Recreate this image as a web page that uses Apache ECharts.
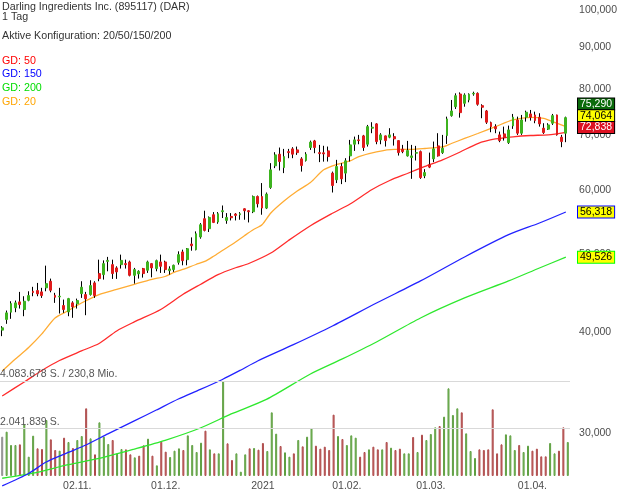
<!DOCTYPE html>
<html><head><meta charset="utf-8">
<script src="https://cdn.jsdelivr.net/npm/echarts@6/dist/echarts.min.js"></script>
<style>html,body{margin:0;padding:0;background:#fff}#c{width:620px;height:496px}</style>
</head><body><div id="c"></div>
<script>
// ---- trading days (NYSE calendar) ----
const tradingDays = {
  '2020-10': [8,9,12,13,14,15,16,19,20,21,22,23,26,27,28,29,30],
  '2020-11': [2,3,4,5,6,9,10,11,12,13,16,17,18,19,20,23,24,25,27,30],
  '2020-12': [1,2,3,4,7,8,9,10,11,14,15,16,17,18,21,22,23,24,28,29,30,31],
  '2021-01': [4,5,6,7,8,11,12,13,14,15,19,20,21,22,25,26,27,28,29],
  '2021-02': [1,2,3,4,5,8,9,10,11,12,16,17,18,19,22,23,24,25,26],
  '2021-03': [1,2,3,4,5,8,9,10,11,12,15,16,17,18,19,22,23,24,25,26,29,30,31],
  '2021-04': [1,5,6,7,8,9,12,13,14]
};
const categories = [];
Object.keys(tradingDays).forEach(ym => tradingDays[ym].forEach(d => categories.push(ym + '-' + String(d).padStart(2, '0'))));

// ---- prices ----
const open = [40.23,41.47,42.34,42.87,43.60,42.66,43.80,44.94,45.03,44.86,45.38,46.24,44.43,44.23,43.15,42.38,43.48,43.36,44.64,44.52,44.52,46.02,47.26,47.12,48.93,48.48,48.03,48.48,48.62,48.85,47.03,47.22,47.94,47.71,48.62,47.94,48.85,48.85,47.66,47.80,48.80,50.26,49.17,51.41,50.59,52.45,55.25,53.70,55.88,54.73,56.36,54.98,55.61,55.99,55.88,56.84,56.52,56.36,58.86,58.86,56.95,60.39,64.23,66.39,63.91,66.88,67.40,67.21,65.51,65.21,67.66,68.95,66.69,66.65,67.02,62.91,61.72,64.10,62.91,66.07,68.30,69.15,69.94,68.30,71.49,72.37,69.15,69.94,69.68,69.80,69.01,67.34,66.07,65.76,66.58,66.88,62.43,64.41,65.51,67.98,66.69,70.00,74.09,76.00,78.80,76.74,77.47,78.80,78.95,76.23,75.09,72.64,71.81,70.14,70.34,68.62,71.96,73.19,70.48,73.76,74.45,74.24,73.76,71.49,71.29,72.51,74.24,69.68,70.48];
const close = [40.50,42.26,43.39,43.48,43.27,43.68,44.39,44.77,44.61,44.39,45.93,45.07,44.18,44.31,42.66,44.01,42.99,43.77,45.46,43.98,45.67,44.39,46.59,48.62,49.07,47.26,47.49,49.07,48.48,47.03,47.80,47.57,47.26,48.85,48.03,49.03,48.25,47.80,47.89,48.39,49.88,49.03,50.73,51.16,52.94,54.31,53.44,55.45,54.67,56.04,56.52,55.45,55.40,55.77,56.04,56.52,56.36,58.86,57.65,56.95,59.26,63.50,66.26,65.02,65.94,66.69,66.39,66.69,64.28,66.39,68.70,67.66,66.50,66.45,65.94,60.73,64.10,61.89,65.15,68.17,69.15,69.01,67.66,71.81,71.69,68.82,70.14,69.01,70.14,69.35,66.69,66.88,67.08,66.07,66.69,62.12,63.01,63.99,67.40,66.07,67.53,73.40,75.09,78.42,74.73,78.58,78.75,78.95,76.53,75.88,72.72,71.81,71.35,69.01,69.60,71.14,73.76,70.48,73.19,74.81,73.76,73.05,72.37,70.60,72.16,74.09,70.14,68.82,73.67];
const low = [39.55,40.96,41.55,42.34,42.78,41.86,43.68,44.31,44.31,44.10,44.94,44.81,43.48,42.18,42.26,41.86,41.67,42.78,44.10,41.98,44.39,44.10,46.24,46.46,47.57,46.55,46.55,47.94,47.94,46.89,45.93,46.59,46.72,47.35,46.76,47.57,47.35,47.35,47.12,47.49,48.48,48.39,48.39,50.44,50.49,52.20,53.29,53.20,54.57,54.46,55.36,54.46,54.98,54.98,55.09,55.09,54.67,56.14,57.05,55.88,56.79,60.16,63.81,63.37,62.91,65.64,65.64,66.26,63.18,65.02,67.21,66.58,64.91,65.00,65.02,59.53,61.15,60.97,61.32,65.02,67.02,68.30,67.02,67.85,70.48,68.30,68.30,67.85,69.48,68.04,66.13,66.58,65.94,61.89,65.21,61.89,62.01,63.81,64.91,65.94,66.45,68.36,73.88,75.52,73.67,76.00,76.96,78.42,76.23,73.55,72.37,70.68,70.48,68.70,69.01,68.36,71.35,70.14,70.14,72.84,73.05,72.51,71.81,70.34,71.14,72.16,70.00,67.73,68.70];
const high = [40.69,42.54,43.68,43.77,44.86,44.31,44.94,45.51,46.02,45.38,48.34,46.59,44.74,45.38,43.89,44.10,43.68,44.01,46.24,44.86,46.37,46.24,49.17,49.07,49.56,49.17,48.25,49.88,49.17,49.03,48.03,47.71,48.03,49.03,48.71,49.17,49.88,49.03,48.25,48.48,50.35,50.59,50.83,52.39,53.29,54.57,56.52,55.61,56.30,56.30,57.37,56.14,56.14,56.14,56.30,56.90,56.60,59.02,59.02,61.15,59.53,64.72,66.77,67.66,67.40,67.40,67.73,67.85,65.83,66.77,69.01,69.15,68.17,68.00,67.85,63.18,65.33,64.72,65.64,69.15,69.80,70.14,70.14,72.16,72.72,72.51,70.48,70.00,71.49,70.48,69.10,68.17,68.95,68.17,67.98,67.08,63.62,66.69,68.82,70.48,70.14,73.88,77.47,78.95,79.16,78.95,78.95,79.32,79.16,76.53,75.30,72.84,72.30,70.80,71.81,72.02,74.45,73.88,74.24,75.15,75.30,74.94,74.60,72.51,72.51,74.45,74.30,70.14,73.88];

// ---- volume (thousand shares) ----
const volumeK = [1691,1906,1333,1333,1361,2221,831,1734,1189,1161,2407,1576,1118,1089,1648,1462,1204,1548,1719,2909,1619,931,2307,1691,1376,1548,974,1161,1146,931,802,874,1318,1605,874,459,1476,1046,817,1089,1189,1118,1748,1333,1032,1433,1949,1146,974,974,4083.678,1404,688,974,186,931,1189,1204,1132,1419,1075,2737,1820,1290,1017,831,974,1548,1275,1691,2049,1304,1175,1261,1118,2637,1719,1591,1333,1748,1648,831,1032,1146,1261,1146,1146,1462,1218,1118,1175,974,974,1676,1032,1777,1548,1805,2092,2149,2551,3769,2622,2909,2737,1834,1075,774,1146,1118,1146,2866,974,1361,1791,1748,1118,1333,1032,1304,1089,1175,845,845,1419,974,1089,2092,1462];
const turnoverText = '230,8 Mio.';

// ---- moving averages [category index, value] ----
const gd20 = [[0,35.81],[3,37.06],[6,38.29],[9,39.80],[12,41.65],[15,42.52],[18,43.46],[22,44.52],[26,45.17],[30,45.84],[34,46.50],[37,46.87],[39,47.42],[41,47.82],[44,48.50],[46,48.92],[48,49.65],[50,50.47],[53,51.71],[55,52.64],[57,53.55],[59,54.31],[61,56.16],[64,58.11],[67,59.79],[70,61.25],[73,63.50],[76,64.48],[79,65.12],[81,65.95],[85,66.85],[89,67.32],[93,67.32],[96,67.48],[100,67.77],[102,68.44],[105,69.43],[108,70.42],[112,71.80],[116,73.19],[120,73.74],[123,73.53],[125,72.83],[128,71.80]];
const gd50 = [[0,33.36],[5,34.71],[9,35.87],[13,36.90],[18,37.92],[22,38.73],[26,40.14],[30,41.18],[36,42.67],[41,44.52],[45,45.82],[49,47.12],[53,48.05],[56,48.64],[61,50.11],[65,51.93],[70,54.16],[75,56.11],[79,57.62],[84,60.04],[88,61.60],[92,62.84],[96,64.11],[100,65.33],[104,66.81],[108,68.44],[112,69.33],[116,69.76],[120,70.02],[124,70.16],[128,70.66]];
const gd150 = [[0,25.82],[6,26.75],[10,27.64],[15,28.40],[19,29.01],[24,29.94],[30,31.07],[35,32.05],[40,33.07],[45,33.98],[50,34.96],[54,35.87],[58,36.85],[66,38.57],[75,40.71],[85,43.46],[95,46.28],[105,49.55],[115,52.79],[122,54.58],[128,56.318]];
const gd200 = [[0,26.39],[7,26.77],[15,27.43],[22,27.93],[30,28.68],[37,29.40],[45,30.45],[52,31.69],[60,33.03],[70,35.51],[77,37.01],[85,38.90],[95,41.65],[105,44.09],[115,46.28],[122,48.02],[128,49.526]];

// ---- quote boxes on the right ----
const quoteNames = ['close','gd20','gd50','gd150','gd200'];
const quoteValues = [75.290, 74.064, 72.838, 56.318, 49.526];
const priceTicks = [30,40,50,60,70,80,90,100];

const titleLines = ['Darling Ingredients Inc. (895117) (DAR)', '1 Tag', 'Aktive Konfiguration: 20/50/150/200'];
const legendNames = ['GD: 50','GD: 150','GD: 200','GD: 20'];

// ---- styles ----
const FONT = '"Liberation Sans", Arial, sans-serif';
const GREEN = '#3db31f', RED = '#e01b1b';
const fmtPrice = v => Number(v).toFixed(3).replace('.', ',');
const fmtThousands = n => String(Math.round(n)).replace(/\B(?=(\d{3})+(?!\d))/g, '.');

const volumes = volumeK.map(v => Math.round(v * 1000));
const volMax = Math.max.apply(null, volumes);

const volData = volumes.map((v, i) => {
  let c, b;
  if (i === 0) { c = '#bdbdbd'; b = '#8e8e8e'; }
  else if (close[i] >= close[i - 1]) { c = '#8fcb70'; b = '#5f9f42'; }
  else { c = '#d97a7a'; b = '#ad4a4a'; }
  return { value: v, itemStyle: { color: c, borderColor: b } };
});
const wickData = open.map((o, i) => [o, close[i], low[i], high[i]]);
const bodyData = open.map((o, i) => [o, close[i], Math.min(o, close[i]), Math.max(o, close[i])]);

const chart = echarts.init(document.getElementById('c'), null, { renderer: 'canvas' });
const maLine = (name, data, color) => ({
  name, type: 'line', xAxisIndex: 0, yAxisIndex: 0, data, showSymbol: false, symbol: 'none',
  smooth: 0.25, lineStyle: { color, width: 1.3 }, z: 3, silent: true
});

chart.setOption({
  animation: false,
  textStyle: { fontFamily: FONT },
  grid: [
    { left: 0, right: 50, top: 0, bottom: 0 },
    { left: 0, right: 50, top: 381, bottom: 20 }
  ],
  xAxis: [
    { type: 'category', gridIndex: 0, data: categories, boundaryGap: true, show: false },
    { type: 'category', gridIndex: 1, data: categories, boundaryGap: true,
      axisLine: { show: false }, axisTick: { show: false },
      axisLabel: {
        interval: (i) => i > 0 && categories[i].slice(0, 7) !== categories[i - 1].slice(0, 7),
        formatter: (v) => { const p = v.split('-'); return p[1] === '01' ? p[0] : p[2] + '.' + p[1] + '.'; },
        color: '#4d4d4d', fontSize: 10.5, margin: 5, fontFamily: FONT
      } }
  ],
  yAxis: [
    { type: 'log', gridIndex: 0, min: 25.09, max: 102.98, position: 'right',
      axisLine: { show: false }, axisTick: { show: false }, splitLine: { show: false },
      axisLabel: { customValues: priceTicks, formatter: fmtPrice, color: '#4d4d4d', fontSize: 10.5, margin: 11, align: 'left', fontFamily: FONT } },
    { type: 'value', gridIndex: 1, min: 0, max: volMax, show: false, splitLine: { show: false } }
  ],
  series: [
    { name: 'Volumen', type: 'bar', xAxisIndex: 1, yAxisIndex: 1, data: volData, barWidth: 2, z: 1,
      itemStyle: { borderWidth: 1 }, silent: true,
      markLine: { symbol: ['none', 'none'], silent: true, label: { show: false },
        lineStyle: { color: '#d9d9d9', type: 'solid', width: 1 },
        data: [{ yAxis: volMax }, { yAxis: volMax / 2 }] } },
    maLine('GD 200', gd200, '#2ee82e'),
    maLine('GD 150', gd150, '#2222ff'),
    maLine('GD 50', gd50, '#ff2b2b'),
    maLine('GD 20', gd20, '#ffac33'),
    { name: 'wick', type: 'candlestick', xAxisIndex: 0, yAxisIndex: 0, data: wickData, barWidth: 0.2, z: 5, silent: true,
      itemStyle: { color: '#000', color0: '#000', borderColor: '#000', borderColor0: '#000', borderWidth: 1 } },
    { name: 'body', type: 'candlestick', xAxisIndex: 0, yAxisIndex: 0, data: bodyData, barWidth: 2.4, z: 6, silent: true,
      itemStyle: { color: GREEN, color0: RED, borderColor: GREEN, borderColor0: RED, borderWidth: 1 } }
  ]
});

// ---- texts & quote boxes ----
const graphics = [];
const titleY = [6.7, 16.7, 36];
titleLines.forEach((t, k) => graphics.push({ type: 'text', x: 2, y: titleY[k], z: 50,
  style: { text: t, fill: '#333', font: '10.7px ' + FONT, verticalAlign: 'middle', align: 'left' } }));
const legendColors = ['#ff0000', '#0000ff', '#00dd00', '#ffa500'];
const legendY = [60.7, 74, 88.3, 101.7];
legendNames.forEach((t, k) => graphics.push({ type: 'text', x: 2, y: legendY[k], z: 50,
  style: { text: t, fill: legendColors[k], font: '10.7px ' + FONT, verticalAlign: 'middle', align: 'left' } }));

const volTexts = [fmtThousands(volMax) + ' S. / ' + turnoverText, fmtThousands(volMax / 2) + ' S.'];
[volMax, volMax / 2].forEach((v, k) => {
  const y = chart.convertToPixel({ yAxisIndex: 1 }, v);
  graphics.push({ type: 'text', x: 0, y: y - 1, z: 50,
    style: { text: volTexts[k], fill: '#555', font: '10.5px ' + FONT, verticalAlign: 'bottom', align: 'left' } });
});

const boxStyle = {
  close: { bg: '#0b6b0b', fg: '#fff', bd: '#000' },
  gd20: { bg: '#ffff00', fg: '#000', bd: '#000' },
  gd50: { bg: '#dd1122', fg: '#fff', bd: '#000' },
  gd150: { bg: '#ffff00', fg: '#000', bd: '#0000ff' },
  gd200: { bg: '#ffff00', fg: '#000', bd: '#00ff00' }
};
const H = 11.8;
const items = quoteNames.map((n, k) => ({ n, v: quoteValues[k], y: chart.convertToPixel({ yAxisIndex: 0 }, quoteValues[k]) }))
  .sort((a, b) => a.y - b.y);
// group overlapping boxes, stack them around their mean
let groups = [[items[0]]];
for (let k = 1; k < items.length; k++) {
  const g = groups[groups.length - 1];
  if (items[k].y - g[g.length - 1].y < H) g.push(items[k]); else groups.push([items[k]]);
}
groups.forEach(g => {
  const m = g.reduce((s, it) => s + it.y, 0) / g.length;
  g.forEach((it, j) => { it.py = m + (j - (g.length - 1) / 2) * H; });
});
items.forEach(it => {
  const s = boxStyle[it.n];
  graphics.push({ type: 'text', x: 578, y: it.py, z: 60,
    style: { text: fmtPrice(it.v), fill: s.fg, font: '10.5px ' + FONT, verticalAlign: 'middle', align: 'left',
      backgroundColor: s.bg, borderColor: s.bd, borderWidth: 1, padding: [1, 2, 0, 2], lineHeight: 10 } });
});
chart.setOption({ graphic: graphics });
</script>
</body></html>
